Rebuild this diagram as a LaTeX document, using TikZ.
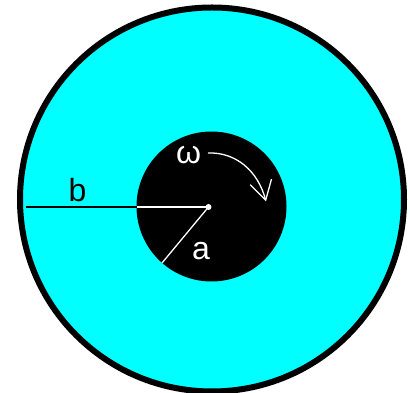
\documentclass[tikz,border=0pt]{standalone}
\usepackage{fontspec}
\setmainfont{Liberation Sans}
\usetikzlibrary{arrows.meta}
\definecolor{aqua}{RGB}{0,255,255}
\tikzset{
  lbl/.style={inner sep=0pt, font=\fontsize{32}{32}\selectfont},
  radius line/.style={line width=1.3pt},
}
\begin{document}
\begin{tikzpicture}[x=1pt,y=1pt]
\useasboundingbox (0,0) rectangle (410,393);
\fill[white] (0,0) rectangle (410,393);
% outer cylinder / fluid region
\coordinate (oc) at (212,193.5);
\coordinate (ic) at (211.5,186.5);
\coordinate (ctr) at (208.5,186);
\coordinate (bend) at (26,186);
\coordinate (bin) at (136.5,186);
\coordinate (aend) at (162,130);
\coordinate (wstart) at (208,240);
\coordinate (wend) at (266,191.5);
\draw[line width=6pt, fill=aqua] (oc) circle[radius=192];
% inner cylinder
\fill[black] (ic) circle[radius=75];
% radius b
\draw[radius line, black] (bend) -- (bin);
\draw[radius line, white] (bin) -- (ctr);
% radius a
\draw[radius line, white] (ctr) -- (aend);
\fill[white] (ctr) circle[radius=3];
% labels
\node[lbl, text=black] (lb) at (77.5,202.5) {b};
\node[lbl, text=white] (la) at (201,141.5) {a};
\node[lbl, text=white] (lw) at (188.5,237.5) {ω};
% rotation arrow
\draw[white, line width=1.3pt, -{Straight Barb[length=19pt,width=22pt]}]
  (wstart) .. controls (236,241) and (258,222) .. (wend);
\end{tikzpicture}
\end{document}
